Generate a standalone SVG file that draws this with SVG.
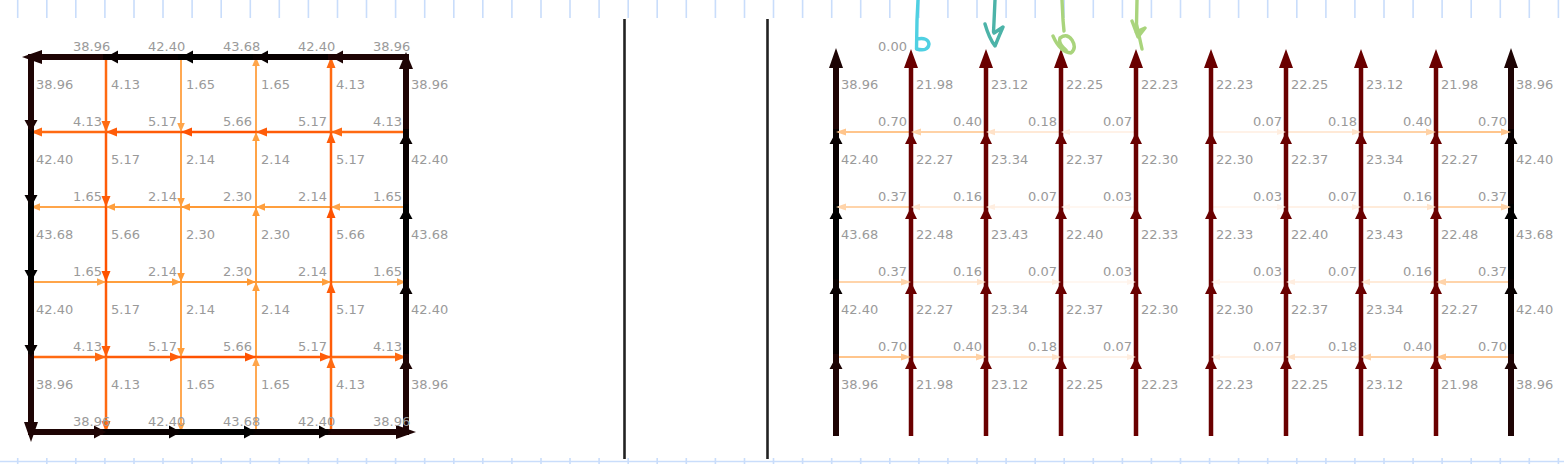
<svg xmlns="http://www.w3.org/2000/svg" width="1564" height="464" viewBox="0 0 1564 464">
<style>
text{font-family:"DejaVu Sans","Liberation Sans",sans-serif;font-size:13px;fill:#9a9a9a}
line{stroke:var(--c)}
path.h{fill:var(--c)}
.k0{--c:#1e0404}.k1{--c:#080000}.k2{--c:#000}
.o1{--c:#ff6a12}.o2{--c:#ff5c08}.o3{--c:#ff5200}
.l1{--c:#ffa54a}.l2{--c:#ff9f3d}.l3{--c:#ff9a35}
.r{--c:#6a0000}
.p70{--c:#ffc58c}.p40{--c:#ffd2a6}.p37{--c:#ffd4aa}.p18{--c:#ffe2c8}.p16{--c:#ffe4cc}.p07{--c:#ffeee0}.p03{--c:#fff4ec}
.wk{stroke-width:6;stroke-linecap:square}.wr{stroke-width:4.5}.wo{stroke-width:2.5}.wl{stroke-width:1.9}.wp{stroke-width:2}.wq{stroke-width:1.6}
.ruler{stroke:#c9ddfb;stroke-width:1.6;fill:none}
.div{stroke:#222;stroke-width:2.6}
.ink{fill:none;stroke-width:3.4;stroke-linecap:round;stroke-linejoin:round}
</style>
<rect width="1564" height="464" fill="#fff"/>
<g id="ruler-top">
<path class="ruler" d="M17.7,0v18M46.8,0v18M75.8,0v18M104.9,0v18M134,0v18M163,0v18M192.1,0v18M221.2,0v18M250.3,0v18M279.3,0v18M308.4,0v18M337.5,0v18M366.5,0v18M395.6,0v18M424.7,0v18M453.8,0v18M482.8,0v18M511.9,0v18M541,0v18M570,0v18M599.1,0v18M628.2,0v18M657.2,0v18M686.3,0v18M715.4,0v18M744.5,0v18M773.5,0v18M802.6,0v18M831.7,0v18M860.7,0v18M889.8,0v18M918.9,0v18M947.9,0v18M977,0v18M1006.1,0v18M1035.2,0v18M1064.2,0v18M1093.3,0v18M1122.4,0v18M1151.4,0v18M1180.5,0v18M1209.6,0v18M1238.6,0v18M1267.7,0v18M1296.8,0v18M1325.9,0v18M1354.9,0v18M1384,0v18M1413.1,0v18M1442.1,0v18M1471.2,0v18M1500.3,0v18M1529.3,0v18M1558.4,0v18"/>
</g>
<g id="ruler-bottom">
<path class="ruler" d="M0,461.5H1564M17.7,458v6M46.8,458v6M75.8,458v6M104.9,458v6M134,458v6M163,458v6M192.1,458v6M221.2,458v6M250.3,458v6M279.3,458v6M308.4,458v6M337.5,458v6M366.5,458v6M395.6,458v6M424.7,458v6M453.8,458v6M482.8,458v6M511.9,458v6M541,458v6M570,458v6M599.1,458v6M628.2,458v6M657.2,458v6M686.3,458v6M715.4,458v6M744.5,458v6M773.5,458v6M802.6,458v6M831.7,458v6M860.7,458v6M889.8,458v6M918.9,458v6M947.9,458v6M977,458v6M1006.1,458v6M1035.2,458v6M1064.2,458v6M1093.3,458v6M1122.4,458v6M1151.4,458v6M1180.5,458v6M1209.6,458v6M1238.6,458v6M1267.7,458v6M1296.8,458v6M1325.9,458v6M1354.9,458v6M1384,458v6M1413.1,458v6M1442.1,458v6M1471.2,458v6M1500.3,458v6M1529.3,458v6M1558.4,458v6"/>
</g>
<g id="dividers">
<line class="div" x1="624.5" y1="19" x2="624.5" y2="459"/>
<line class="div" x1="767.5" y1="19" x2="767.5" y2="459"/>
</g>

<g id="left-grid">
<g id="left-connectors">
<line class="l1 wl" x1="31" y1="207" x2="106" y2="207"/><line class="l2 wl" x1="106" y1="207" x2="181" y2="207"/><line class="l3 wl" x1="181" y1="207" x2="256" y2="207"/><line class="l2 wl" x1="256" y1="207" x2="331" y2="207"/><line class="l1 wl" x1="331" y1="207" x2="406" y2="207"/>
<line class="l1 wl" x1="31" y1="282" x2="106" y2="282"/><line class="l2 wl" x1="106" y1="282" x2="181" y2="282"/><line class="l3 wl" x1="181" y1="282" x2="256" y2="282"/><line class="l2 wl" x1="256" y1="282" x2="331" y2="282"/><line class="l1 wl" x1="331" y1="282" x2="406" y2="282"/>
<line class="l1 wl" x1="181" y1="57" x2="181" y2="132"/><line class="l2 wl" x1="181" y1="132" x2="181" y2="207"/><line class="l3 wl" x1="181" y1="207" x2="181" y2="282"/><line class="l2 wl" x1="181" y1="282" x2="181" y2="357"/><line class="l1 wl" x1="181" y1="357" x2="181" y2="432"/>
<line class="l1 wl" x1="256" y1="57" x2="256" y2="132"/><line class="l2 wl" x1="256" y1="132" x2="256" y2="207"/><line class="l3 wl" x1="256" y1="207" x2="256" y2="282"/><line class="l2 wl" x1="256" y1="282" x2="256" y2="357"/><line class="l1 wl" x1="256" y1="357" x2="256" y2="432"/>
<line class="o1 wo" x1="31" y1="132" x2="106" y2="132"/><line class="o2 wo" x1="106" y1="132" x2="181" y2="132"/><line class="o3 wo" x1="181" y1="132" x2="256" y2="132"/><line class="o2 wo" x1="256" y1="132" x2="331" y2="132"/><line class="o1 wo" x1="331" y1="132" x2="406" y2="132"/>
<line class="o1 wo" x1="31" y1="357" x2="106" y2="357"/><line class="o2 wo" x1="106" y1="357" x2="181" y2="357"/><line class="o3 wo" x1="181" y1="357" x2="256" y2="357"/><line class="o2 wo" x1="256" y1="357" x2="331" y2="357"/><line class="o1 wo" x1="331" y1="357" x2="406" y2="357"/>
<line class="o1 wo" x1="106" y1="57" x2="106" y2="132"/><line class="o2 wo" x1="106" y1="132" x2="106" y2="207"/><line class="o3 wo" x1="106" y1="207" x2="106" y2="282"/><line class="o2 wo" x1="106" y1="282" x2="106" y2="357"/><line class="o1 wo" x1="106" y1="357" x2="106" y2="432"/>
<line class="o1 wo" x1="331" y1="57" x2="331" y2="132"/><line class="o2 wo" x1="331" y1="132" x2="331" y2="207"/><line class="o3 wo" x1="331" y1="207" x2="331" y2="282"/><line class="o2 wo" x1="331" y1="282" x2="331" y2="357"/><line class="o1 wo" x1="331" y1="357" x2="331" y2="432"/>
<path class="h l1" d="M31,207l9,-3.8v7.6z"/><path class="h l2" d="M106,207l9,-3.8v7.6z"/><path class="h l3" d="M181,207l9,-3.8v7.6z"/><path class="h l2" d="M256,207l9,-3.8v7.6z"/><path class="h l1" d="M331,207l9,-3.8v7.6z"/>
<path class="h l1" d="M106,282l-9,-3.8v7.6z"/><path class="h l2" d="M181,282l-9,-3.8v7.6z"/><path class="h l3" d="M256,282l-9,-3.8v7.6z"/><path class="h l2" d="M331,282l-9,-3.8v7.6z"/><path class="h l1" d="M406,282l-9,-3.8v7.6z"/>
<path class="h l1" d="M181,132l-3.8,-9h7.6z"/><path class="h l2" d="M181,207l-3.8,-9h7.6z"/><path class="h l3" d="M181,282l-3.8,-9h7.6z"/><path class="h l2" d="M181,357l-3.8,-9h7.6z"/><path class="h l1" d="M181,432l-3.8,-9h7.6z"/>
<path class="h l1" d="M256,57l-3.8,9h7.6z"/><path class="h l2" d="M256,132l-3.8,9h7.6z"/><path class="h l3" d="M256,207l-3.8,9h7.6z"/><path class="h l2" d="M256,282l-3.8,9h7.6z"/><path class="h l1" d="M256,357l-3.8,9h7.6z"/>
<path class="h o1" d="M31,132l11,-4.5v9z"/><path class="h o2" d="M106,132l11,-4.5v9z"/><path class="h o3" d="M181,132l11,-4.5v9z"/><path class="h o2" d="M256,132l11,-4.5v9z"/><path class="h o1" d="M331,132l11,-4.5v9z"/>
<path class="h o1" d="M106,357l-11,-4.5v9z"/><path class="h o2" d="M181,357l-11,-4.5v9z"/><path class="h o3" d="M256,357l-11,-4.5v9z"/><path class="h o2" d="M331,357l-11,-4.5v9z"/><path class="h o1" d="M406,357l-11,-4.5v9z"/>
<path class="h o1" d="M106,132l-4.5,-11h9z"/><path class="h o2" d="M106,207l-4.5,-11h9z"/><path class="h o3" d="M106,282l-4.5,-11h9z"/><path class="h o2" d="M106,357l-4.5,-11h9z"/><path class="h o1" d="M106,432l-4.5,-11h9z"/>
<path class="h o1" d="M331,57l-4.5,11h9z"/><path class="h o2" d="M331,132l-4.5,11h9z"/><path class="h o3" d="M331,207l-4.5,11h9z"/><path class="h o2" d="M331,282l-4.5,11h9z"/><path class="h o1" d="M331,357l-4.5,11h9z"/>
<line class="k0 wk" x1="31" y1="57" x2="106" y2="57"/><line class="k1 wk" x1="106" y1="57" x2="181" y2="57"/><line class="k2 wk" x1="181" y1="57" x2="256" y2="57"/><line class="k1 wk" x1="256" y1="57" x2="331" y2="57"/><line class="k0 wk" x1="331" y1="57" x2="406" y2="57"/>
<line class="k0 wk" x1="31" y1="432" x2="106" y2="432"/><line class="k1 wk" x1="106" y1="432" x2="181" y2="432"/><line class="k2 wk" x1="181" y1="432" x2="256" y2="432"/><line class="k1 wk" x1="256" y1="432" x2="331" y2="432"/><line class="k0 wk" x1="331" y1="432" x2="406" y2="432"/>
<line class="k0 wk" x1="31" y1="57" x2="31" y2="132"/><line class="k1 wk" x1="31" y1="132" x2="31" y2="207"/><line class="k2 wk" x1="31" y1="207" x2="31" y2="282"/><line class="k1 wk" x1="31" y1="282" x2="31" y2="357"/><line class="k0 wk" x1="31" y1="357" x2="31" y2="432"/>
<line class="k0 wk" x1="406" y1="57" x2="406" y2="132"/><line class="k1 wk" x1="406" y1="132" x2="406" y2="207"/><line class="k2 wk" x1="406" y1="207" x2="406" y2="282"/><line class="k1 wk" x1="406" y1="282" x2="406" y2="357"/><line class="k0 wk" x1="406" y1="357" x2="406" y2="432"/>
<path class="h k0" d="M22,57l20,-7v14z"/><path class="h k1" d="M106,57l12,-6.5v13z"/><path class="h k2" d="M181,57l12,-6.5v13z"/><path class="h k1" d="M256,57l12,-6.5v13z"/><path class="h k0" d="M331,57l12,-6.5v13z"/>
<path class="h k0" d="M106,432l-12,-6.5v13z"/><path class="h k1" d="M181,432l-12,-6.5v13z"/><path class="h k2" d="M256,432l-12,-6.5v13z"/><path class="h k1" d="M331,432l-12,-6.5v13z"/><path class="h k0" d="M416,432l-20,-7v14z"/>
<path class="h k0" d="M31,132l-6.5,-12h13z"/><path class="h k1" d="M31,207l-6.5,-12h13z"/><path class="h k2" d="M31,282l-6.5,-12h13z"/><path class="h k1" d="M31,357l-6.5,-12h13z"/><path class="h k0" d="M31,442l-7,-20h14z"/>
<path class="h k0" d="M406,52l-7,17h14z"/><path class="h k1" d="M406,132l-6.5,12h13z"/><path class="h k2" d="M406,207l-6.5,12h13z"/><path class="h k1" d="M406,282l-6.5,12h13z"/><path class="h k0" d="M406,357l-6.5,12h13z"/>
</g>
<g id="left-labels">
<text x="73" y="51">38.96</text><text x="148" y="51">42.40</text><text x="223" y="51">43.68</text><text x="298" y="51">42.40</text><text x="373" y="51">38.96</text>
<text x="73" y="126">4.13</text><text x="148" y="126">5.17</text><text x="223" y="126">5.66</text><text x="298" y="126">5.17</text><text x="373" y="126">4.13</text>
<text x="73" y="201">1.65</text><text x="148" y="201">2.14</text><text x="223" y="201">2.30</text><text x="298" y="201">2.14</text><text x="373" y="201">1.65</text>
<text x="73" y="276">1.65</text><text x="148" y="276">2.14</text><text x="223" y="276">2.30</text><text x="298" y="276">2.14</text><text x="373" y="276">1.65</text>
<text x="73" y="351">4.13</text><text x="148" y="351">5.17</text><text x="223" y="351">5.66</text><text x="298" y="351">5.17</text><text x="373" y="351">4.13</text>
<text x="73" y="426">38.96</text><text x="148" y="426">42.40</text><text x="223" y="426">43.68</text><text x="298" y="426">42.40</text><text x="373" y="426">38.96</text>
<text x="36" y="89">38.96</text><text x="36" y="164">42.40</text><text x="36" y="239">43.68</text><text x="36" y="314">42.40</text><text x="36" y="389">38.96</text>
<text x="111" y="89">4.13</text><text x="111" y="164">5.17</text><text x="111" y="239">5.66</text><text x="111" y="314">5.17</text><text x="111" y="389">4.13</text>
<text x="186" y="89">1.65</text><text x="186" y="164">2.14</text><text x="186" y="239">2.30</text><text x="186" y="314">2.14</text><text x="186" y="389">1.65</text>
<text x="261" y="89">1.65</text><text x="261" y="164">2.14</text><text x="261" y="239">2.30</text><text x="261" y="314">2.14</text><text x="261" y="389">1.65</text>
<text x="336" y="89">4.13</text><text x="336" y="164">5.17</text><text x="336" y="239">5.66</text><text x="336" y="314">5.17</text><text x="336" y="389">4.13</text>
<text x="411" y="89">38.96</text><text x="411" y="164">42.40</text><text x="411" y="239">43.68</text><text x="411" y="314">42.40</text><text x="411" y="389">38.96</text>
</g>
</g>

<g id="right-grid">
<g id="right-connectors">
<line class="p70 wp" x1="836" y1="132" x2="911" y2="132"/><line class="p40 wp" x1="911" y1="132" x2="986" y2="132"/><line class="p18 wq" x1="986" y1="132" x2="1061" y2="132"/><line class="p07 wq" x1="1061" y1="132" x2="1136" y2="132"/><line class="p07 wq" x1="1211" y1="132" x2="1286" y2="132"/><line class="p18 wq" x1="1286" y1="132" x2="1361" y2="132"/><line class="p40 wp" x1="1361" y1="132" x2="1436" y2="132"/><line class="p70 wp" x1="1436" y1="132" x2="1511" y2="132"/>
<line class="p37 wp" x1="836" y1="207" x2="911" y2="207"/><line class="p16 wq" x1="911" y1="207" x2="986" y2="207"/><line class="p07 wq" x1="986" y1="207" x2="1061" y2="207"/><line class="p03 wq" x1="1061" y1="207" x2="1136" y2="207"/><line class="p03 wq" x1="1211" y1="207" x2="1286" y2="207"/><line class="p07 wq" x1="1286" y1="207" x2="1361" y2="207"/><line class="p16 wq" x1="1361" y1="207" x2="1436" y2="207"/><line class="p37 wp" x1="1436" y1="207" x2="1511" y2="207"/>
<line class="p37 wp" x1="836" y1="282" x2="911" y2="282"/><line class="p16 wq" x1="911" y1="282" x2="986" y2="282"/><line class="p07 wq" x1="986" y1="282" x2="1061" y2="282"/><line class="p03 wq" x1="1061" y1="282" x2="1136" y2="282"/><line class="p03 wq" x1="1211" y1="282" x2="1286" y2="282"/><line class="p07 wq" x1="1286" y1="282" x2="1361" y2="282"/><line class="p16 wq" x1="1361" y1="282" x2="1436" y2="282"/><line class="p37 wp" x1="1436" y1="282" x2="1511" y2="282"/>
<line class="p70 wp" x1="836" y1="357" x2="911" y2="357"/><line class="p40 wp" x1="911" y1="357" x2="986" y2="357"/><line class="p18 wq" x1="986" y1="357" x2="1061" y2="357"/><line class="p07 wq" x1="1061" y1="357" x2="1136" y2="357"/><line class="p07 wq" x1="1211" y1="357" x2="1286" y2="357"/><line class="p18 wq" x1="1286" y1="357" x2="1361" y2="357"/><line class="p40 wp" x1="1361" y1="357" x2="1436" y2="357"/><line class="p70 wp" x1="1436" y1="357" x2="1511" y2="357"/>
<line class="r wr" x1="911" y1="436" x2="911" y2="57"/><line class="r wr" x1="986" y1="436" x2="986" y2="57"/><line class="r wr" x1="1061" y1="436" x2="1061" y2="57"/><line class="r wr" x1="1136" y1="436" x2="1136" y2="57"/><line class="r wr" x1="1211" y1="436" x2="1211" y2="57"/><line class="r wr" x1="1286" y1="436" x2="1286" y2="57"/><line class="r wr" x1="1361" y1="436" x2="1361" y2="57"/><line class="r wr" x1="1436" y1="436" x2="1436" y2="57"/>
<line class="k0 wk" x1="836" y1="60" x2="836" y2="132"/><line class="k1 wk" x1="836" y1="132" x2="836" y2="207"/><line class="k2 wk" x1="836" y1="207" x2="836" y2="282"/><line class="k1 wk" x1="836" y1="282" x2="836" y2="357"/><line class="k0 wk" x1="836" y1="357" x2="836" y2="433"/>
<line class="k0 wk" x1="1511" y1="60" x2="1511" y2="132"/><line class="k1 wk" x1="1511" y1="132" x2="1511" y2="207"/><line class="k2 wk" x1="1511" y1="207" x2="1511" y2="282"/><line class="k1 wk" x1="1511" y1="282" x2="1511" y2="357"/><line class="k0 wk" x1="1511" y1="357" x2="1511" y2="433"/>
<path class="h r" d="M911,49l-7,19h14zM911,132l-6,12h12zM911,207l-6,12h12zM911,282l-6,12h12zM911,357l-6,12h12z"/>
<path class="h r" d="M986,49l-7,19h14zM986,132l-6,12h12zM986,207l-6,12h12zM986,282l-6,12h12zM986,357l-6,12h12z"/>
<path class="h r" d="M1061,49l-7,19h14zM1061,132l-6,12h12zM1061,207l-6,12h12zM1061,282l-6,12h12zM1061,357l-6,12h12z"/>
<path class="h r" d="M1136,49l-7,19h14zM1136,132l-6,12h12zM1136,207l-6,12h12zM1136,282l-6,12h12zM1136,357l-6,12h12z"/>
<path class="h r" d="M1211,49l-7,19h14zM1211,132l-6,12h12zM1211,207l-6,12h12zM1211,282l-6,12h12zM1211,357l-6,12h12z"/>
<path class="h r" d="M1286,49l-7,19h14zM1286,132l-6,12h12zM1286,207l-6,12h12zM1286,282l-6,12h12zM1286,357l-6,12h12z"/>
<path class="h r" d="M1361,49l-7,19h14zM1361,132l-6,12h12zM1361,207l-6,12h12zM1361,282l-6,12h12zM1361,357l-6,12h12z"/>
<path class="h r" d="M1436,49l-7,19h14zM1436,132l-6,12h12zM1436,207l-6,12h12zM1436,282l-6,12h12zM1436,357l-6,12h12z"/>
<path class="h k0" d="M836,48l-7,20h14zM836,357l-6.5,12h13zM1511,48l-7,20h14zM1511,357l-6.5,12h13z"/>
<path class="h k1" d="M836,132l-6.5,12h13zM836,282l-6.5,12h13zM1511,132l-6.5,12h13zM1511,282l-6.5,12h13z"/>
<path class="h k2" d="M836,207l-6.5,12h13zM1511,207l-6.5,12h13z"/>
<path class="h p70" d="M836,132l10,-3.5v7zM1511,132l-10,-3.5v7zM911,357l-10,-3.5v7zM1436,357l10,-3.5v7z"/>
<path class="h p40" d="M911,132l10,-3.5v7zM1436,132l-10,-3.5v7zM986,357l-10,-3.5v7zM1361,357l10,-3.5v7z"/>
<path class="h p37" d="M836,207l10,-3.5v7zM1511,207l-10,-3.5v7zM911,282l-10,-3.5v7zM1436,282l10,-3.5v7z"/>
<path class="h p18" d="M986,132l9,-3.2v6.4zM1361,132l-9,-3.2v6.4zM1061,357l-9,-3.2v6.4zM1286,357l9,-3.2v6.4z"/>
<path class="h p16" d="M911,207l9,-3.2v6.4zM1436,207l-9,-3.2v6.4zM986,282l-9,-3.2v6.4zM1361,282l9,-3.2v6.4z"/>
<path class="h p07" d="M1061,132l9,-3v6zM1286,132l-9,-3v6zM986,207l9,-3v6zM1361,207l-9,-3v6zM1061,282l-9,-3v6zM1286,282l9,-3v6zM1136,357l-9,-3v6zM1211,357l9,-3v6z"/>
<path class="h p03" d="M1061,207l9,-3v6zM1286,207l-9,-3v6zM1136,282l-9,-3v6zM1211,282l9,-3v6z"/>
</g>
<g id="right-labels">
<text x="878" y="51">0.00</text>
<text x="878" y="126">0.70</text><text x="953" y="126">0.40</text><text x="1028" y="126">0.18</text><text x="1103" y="126">0.07</text><text x="1253" y="126">0.07</text><text x="1328" y="126">0.18</text><text x="1403" y="126">0.40</text><text x="1478" y="126">0.70</text>
<text x="878" y="201">0.37</text><text x="953" y="201">0.16</text><text x="1028" y="201">0.07</text><text x="1103" y="201">0.03</text><text x="1253" y="201">0.03</text><text x="1328" y="201">0.07</text><text x="1403" y="201">0.16</text><text x="1478" y="201">0.37</text>
<text x="878" y="276">0.37</text><text x="953" y="276">0.16</text><text x="1028" y="276">0.07</text><text x="1103" y="276">0.03</text><text x="1253" y="276">0.03</text><text x="1328" y="276">0.07</text><text x="1403" y="276">0.16</text><text x="1478" y="276">0.37</text>
<text x="878" y="351">0.70</text><text x="953" y="351">0.40</text><text x="1028" y="351">0.18</text><text x="1103" y="351">0.07</text><text x="1253" y="351">0.07</text><text x="1328" y="351">0.18</text><text x="1403" y="351">0.40</text><text x="1478" y="351">0.70</text>
<text x="841" y="89">38.96</text><text x="841" y="164">42.40</text><text x="841" y="239">43.68</text><text x="841" y="314">42.40</text><text x="841" y="389">38.96</text>
<text x="916" y="89">21.98</text><text x="916" y="164">22.27</text><text x="916" y="239">22.48</text><text x="916" y="314">22.27</text><text x="916" y="389">21.98</text>
<text x="991" y="89">23.12</text><text x="991" y="164">23.34</text><text x="991" y="239">23.43</text><text x="991" y="314">23.34</text><text x="991" y="389">23.12</text>
<text x="1066" y="89">22.25</text><text x="1066" y="164">22.37</text><text x="1066" y="239">22.40</text><text x="1066" y="314">22.37</text><text x="1066" y="389">22.25</text>
<text x="1141" y="89">22.23</text><text x="1141" y="164">22.30</text><text x="1141" y="239">22.33</text><text x="1141" y="314">22.30</text><text x="1141" y="389">22.23</text>
<text x="1216" y="89">22.23</text><text x="1216" y="164">22.30</text><text x="1216" y="239">22.33</text><text x="1216" y="314">22.30</text><text x="1216" y="389">22.23</text>
<text x="1291" y="89">22.25</text><text x="1291" y="164">22.37</text><text x="1291" y="239">22.40</text><text x="1291" y="314">22.37</text><text x="1291" y="389">22.25</text>
<text x="1366" y="89">23.12</text><text x="1366" y="164">23.34</text><text x="1366" y="239">23.43</text><text x="1366" y="314">23.34</text><text x="1366" y="389">23.12</text>
<text x="1441" y="89">21.98</text><text x="1441" y="164">22.27</text><text x="1441" y="239">22.48</text><text x="1441" y="314">22.27</text><text x="1441" y="389">21.98</text>
<text x="1516" y="89">38.96</text><text x="1516" y="164">42.40</text><text x="1516" y="239">43.68</text><text x="1516" y="314">42.40</text><text x="1516" y="389">38.96</text>
</g>
</g>

<g id="ink">
<path class="ink" stroke="#4fd0e2" d="M918,0L917,20L916.5,49Q928,52 929,44Q928,37 917,39"/>
<path class="ink" stroke="#4cb3a8" d="M995,0L994,22L993.5,32M985,24Q989,38 995,46Q999,36 1003,27L994,33"/>
<path class="ink" stroke="#a9d47c" d="M1062,0L1063,20L1064,31M1053,36Q1060,52 1071,53Q1077,48 1072,40Q1067,33 1060,38Q1058,44 1066,50"/>
<path class="ink" stroke="#a9d47c" d="M1137,0L1136.5,24L1142,49M1132,21L1138,37L1145,28L1136,32"/>
</g>
</svg>
